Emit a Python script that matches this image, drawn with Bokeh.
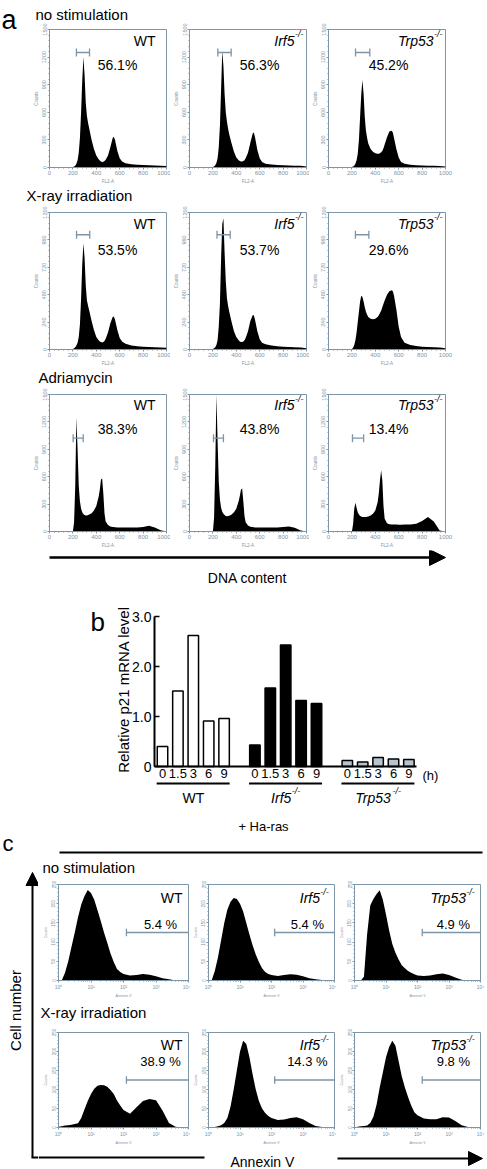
import math
from bokeh.plotting import figure
from bokeh.models import Range1d, FixedTicker, Arrow, NormalHead
from bokeh.layouts import column, row
from bokeh.core.properties import value
from bokeh.embed import file_html
from bokeh.resources import INLINE

# ======================= DATA =======================
# ---- panel a : DNA content histograms (FL2-A channel vs counts) ----
fl2_channel = [0, 180, 200, 210, 220, 230, 240, 250, 260, 270, 280, 290, 300, 310, 320, 330, 340,
               360, 380, 400, 420, 430, 440, 450, 460, 470, 480, 500, 520, 540, 550, 560, 580, 600,
               620, 650, 700, 750, 800, 850, 900, 950, 1000]
nostim_wt = [0, 0, 5, 10, 20, 40, 80, 160, 320, 600, 950, 1200, 1000, 700, 560, 480, 420, 300, 200, 130,
             90, 75, 65, 60, 62, 70, 85, 130, 220, 320, 335, 300, 180, 100, 65, 45, 35, 30, 28, 25, 22, 20, 15]
nostim_irf5 = [0, 0, 5, 10, 25, 50, 100, 220, 450, 850, 1270, 1100, 800, 600, 500, 420, 360, 260, 170, 110,
               80, 70, 65, 65, 70, 80, 100, 160, 270, 370, 380, 330, 190, 100, 60, 40, 32, 28, 25, 22, 20, 18, 10]
nostim_trp53 = [0, 0, 5, 10, 20, 40, 80, 150, 300, 550, 800, 950, 800, 550, 400, 320, 260, 200, 170, 155,
                150, 150, 155, 165, 180, 210, 250, 330, 390, 400, 380, 320, 200, 110, 60, 40, 30, 25, 22, 20, 18, 15, 10]
xray_wt = [0, 0, 5, 10, 20, 35, 60, 110, 220, 450, 750, 930, 800, 560, 430, 380, 340, 250, 170, 110,
           80, 70, 65, 62, 65, 75, 95, 150, 230, 285, 290, 260, 170, 100, 70, 50, 35, 28, 25, 22, 20, 18, 15]
xray_irf5 = [0, 0, 5, 10, 20, 40, 80, 200, 400, 800, 1100, 1150, 850, 600, 450, 380, 330, 240, 160, 110,
             80, 70, 65, 65, 70, 80, 100, 160, 250, 300, 300, 260, 160, 90, 60, 45, 35, 28, 25, 22, 20, 18, 12]
xray_trp53 = [0, 0, 5, 15, 40, 80, 150, 240, 330, 420, 470, 460, 420, 370, 330, 305, 285, 270, 265, 270,
              285, 300, 320, 340, 370, 400, 430, 480, 510, 520, 510, 470, 350, 200, 110, 60, 40, 30, 25, 22, 20, 18, 12]
adria_wt = [0, 0, 0, 100, 500, 1250, 900, 500, 330, 250, 210, 190, 180, 175, 175, 180, 185, 200, 230, 280,
            380, 460, 570, 580, 420, 200, 110, 70, 55, 50, 48, 47, 45, 45, 45, 45, 45, 45, 50, 62, 45, 15, 0]
adria_irf5 = [0, 0, 0, 150, 700, 1500, 1000, 550, 350, 260, 215, 195, 180, 170, 168, 170, 172, 185, 210, 250,
              330, 390, 460, 470, 330, 170, 100, 65, 52, 48, 46, 45, 45, 45, 45, 45, 45, 45, 48, 55, 40, 12, 0]
adria_trp53 = [0, 0, 0, 80, 250, 315, 260, 210, 185, 170, 163, 160, 158, 158, 160, 162, 165, 175, 195, 230,
               320, 420, 560, 670, 560, 280, 140, 90, 80, 78, 76, 76, 76, 75, 75, 76, 78, 85, 115, 160, 110, 10, 0]
pct_nostim_a = ["56.1%", "56.3%", "45.2%"]
pct_xray_a = ["53.5%", "53.7%", "29.6%"]
pct_adria_a = ["38.3%", "43.8%", "13.4%"]
gate_nostim_a_lo = [230, 242, 231]
gate_nostim_a_hi = [342, 356, 353]
gate_nostim_a_y = 1250
gate_xray_a_lo = [231, 235, 230]
gate_xray_a_hi = [344, 348, 345]
gate_xray_a_y = 1005
gate_adria_a_lo = [202, 205, 205]
gate_adria_a_hi = [288, 290, 300]
gate_adria_a_y = 1022
genotypes = ["WT", "Irf5", "Trp53"]
treatments_a = ["no stimulation", "X-ray irradiation", "Adriamycin"]
a_x_ticks = [0, 200, 400, 600, 800, 1000]
a_y_ticks_1500 = [0, 300, 600, 900, 1200, 1500]
a_y_ticks_1200 = [0, 240, 480, 720, 960, 1200]

# ---- panel b : relative p21 mRNA level ----
timepoints_h = ["0", "1.5", "3", "6", "9"]
p21_wt = [0.40, 1.51, 2.62, 0.91, 0.96]
p21_irf5 = [0.43, 1.57, 2.43, 1.32, 1.26]
p21_trp53 = [0.12, 0.09, 0.18, 0.15, 0.14]
b_y_ticks = [0, 1, 2, 3]
b_y_labels = ["0", "1.0", "2.0", "3.0"]

# ---- panel c : Annexin V histograms (log10 Annexin V vs counts) ----
annexin_log10 = [0.0, 0.1, 0.2, 0.3, 0.4, 0.5, 0.6, 0.7, 0.8, 0.9, 1.0, 1.1, 1.2, 1.3, 1.4, 1.5, 1.6, 1.7,
                 1.8, 1.9, 2.0, 2.2, 2.4, 2.6, 2.8, 3.0, 3.2, 3.4, 3.6, 3.8, 4.0]
c_nostim_wt = [0, 0, 20, 50, 88, 125, 165, 198, 220, 236, 228, 210, 183, 155, 125, 98, 70, 48, 30, 22,
               17, 13, 14, 17, 15, 11, 6, 3, 0, 0, 0]
c_nostim_irf5 = [0, 0, 25, 60, 105, 150, 185, 205, 215, 212, 200, 180, 150, 120, 92, 68, 48, 32, 22, 17,
                 14, 12, 14, 16, 15, 11, 6, 3, 1, 0, 0]
c_nostim_trp53 = [0, 0, 0, 10, 120, 195, 212, 225, 235, 210, 172, 130, 95, 72, 55, 40, 32, 25, 20, 16,
                  13, 12, 13, 16, 18, 14, 8, 2, 0, 0, 0]
c_xray_wt = [2, 3, 5, 6, 7, 9, 11, 25, 48, 70, 88, 102, 110, 112, 111, 107, 99, 88, 71, 58,
             46, 36, 53, 70, 75, 72, 45, 12, 2, 0, 0]
c_xray_irf5 = [0, 0, 1, 3, 6, 12, 25, 55, 100, 150, 200, 228, 220, 185, 140, 100, 70, 50, 38, 30,
               25, 20, 21, 25, 27, 22, 12, 4, 1, 0, 0]
c_xray_trp53 = [0, 2, 3, 4, 5, 12, 28, 60, 105, 145, 185, 212, 228, 215, 175, 135, 105, 80, 58, 40,
                32, 24, 22, 22, 27, 26, 17, 6, 1, 0, 0]
pct_nostim_c = ["5.4 %", "5.4 %", "4.9 %"]
pct_xray_c = ["38.9 %", "14.3 %", "9.8 %"]
gate_c_lo = [2.09, 2.1, 2.15]
gate_c_y = 125
treatments_c = ["no stimulation", "X-ray irradiation"]
c_x_ticks = [0, 1, 2, 3, 4]
c_x_labels = ["10\u2070", "10\u00b9", "10\u00b2", "10\u00b3", "10\u2074"]
c_y_ticks = [0, 50, 100, 150, 200, 250]

# ======================= STYLE / HELPERS =======================
FONT = "Liberation Sans"
SLATE = "#7d95a6"
INK = "#000000"
TRP_FILL = "#b5c4ce"
EM = {"Irf5": 1.445, "Trp53": 2.612, "-/-": 0.944}


class Geo:
    """maps page pixel positions to a figure's data coordinates"""
    def __init__(self, fl, ft, fw, fh, xr, yr):
        self.fl, self.ft, self.fw, self.fh, self.xr, self.yr = fl, ft, fw, fh, xr, yr

    def x(self, px):
        return self.xr[0] + (px - self.fl) * (self.xr[1] - self.xr[0]) / self.fw

    def y(self, py):
        return self.yr[1] - (py - self.ft) * (self.yr[1] - self.yr[0]) / self.fh


def base_fig(w, h, xr, yr, bl=0, br=0, bt=0, bb=0, axes=True):
    kw = dict(width=w, height=h, x_range=Range1d(*xr), y_range=Range1d(*yr), min_border=0,
              min_border_left=bl, min_border_right=br, min_border_top=bt, min_border_bottom=bb,
              toolbar_location=None, output_backend="svg")
    if not axes:
        kw.update(x_axis_location=None, y_axis_location=None)
    p = figure(**kw)
    p.grid.visible = False
    p.outline_line_color = None
    p.background_fill_color = "white"
    p.border_fill_color = "white"
    return p


def canvas(x0, y0, w, h):
    xr, yr = (x0, x0 + w), (-(y0 + h), -y0)
    p = base_fig(w, h, xr, yr, axes=False)
    return p, Geo(x0, y0, w, h, xr, yr)


def put_text(p, g, px, py, s, size, align="left", style="normal", color=INK, angle=0.0):
    p.text(x=[g.x(px)], y=[g.y(py)], text=[s], text_font=value(FONT), text_font_size=f"{size}px",
           text_align=align, text_baseline="middle", text_font_style=style, text_color=color, angle=angle)


def put_line(p, g, pxs, pys, width=2):
    p.line(x=[g.x(v) for v in pxs], y=[g.y(v) for v in pys], line_color=INK, line_width=width)


def put_arrow(p, g, x0, y0, x1, y1, width, head):
    p.add_layout(Arrow(x_start=g.x(x0), y_start=g.y(y0), x_end=g.x(x1), y_end=g.y(y1),
                       line_width=width, line_color=INK,
                       end=NormalHead(size=head, fill_color=INK, line_color=INK)))


def genotype_right(p, g, name, right_px, mid_px, size, sup):
    if name == "WT":
        put_text(p, g, right_px, mid_px, "WT", size, align="right")
        return
    put_text(p, g, right_px, mid_px - 0.43 * size, "-/-", sup, align="right", style="italic")
    put_text(p, g, right_px - EM["-/-"] * sup - 0.5, mid_px, name, size, align="right", style="italic")


def genotype_center(p, g, name, cx_px, mid_px, size, sup):
    if name == "WT":
        put_text(p, g, cx_px, mid_px, "WT", size, align="center")
        return
    w_main = EM[name] * size
    w_sup = EM["-/-"] * sup
    x0 = cx_px - (w_main + w_sup + 0.5) / 2
    put_text(p, g, x0, mid_px, name, size, style="italic")
    put_text(p, g, x0 + w_main + 0.5, mid_px - 0.43 * size, "-/-", sup, style="italic")


def style_hist_axes(p, xticks, xminor, yticks, yminor, xlabel, xtick_px, ytick_px, lab_px, x_over=None):
    p.outline_line_color = SLATE
    p.outline_line_width = 1
    p.xaxis.ticker = FixedTicker(ticks=xticks, minor_ticks=xminor)
    p.yaxis.ticker = FixedTicker(ticks=yticks, minor_ticks=yminor)
    if x_over:
        p.xaxis.major_label_overrides = x_over
    p.xaxis.axis_label = xlabel
    p.yaxis.axis_label = "Counts"
    p.yaxis.major_label_orientation = "vertical"
    for ax, tp in ((p.xaxis[0], xtick_px), (p.yaxis[0], ytick_px)):
        ax.axis_line_color = SLATE
        ax.major_tick_line_color = SLATE
        ax.minor_tick_line_color = SLATE
        ax.major_tick_out = 2
        ax.major_tick_in = 0
        ax.minor_tick_out = 1
        ax.minor_tick_in = 0
        ax.major_label_text_font = FONT
        ax.major_label_text_font_size = f"{tp}px"
        ax.major_label_text_color = SLATE
        ax.major_label_standoff = 1
        ax.axis_label_text_font = FONT
        ax.axis_label_text_font_size = f"{lab_px}px"
        ax.axis_label_text_font_style = "normal"
        ax.axis_label_text_color = SLATE
        ax.axis_label_standoff = 1


# ======================= PANEL a =======================
A_FIG_W = [[140, 139, 178], [170, 139, 178], [170, 139, 178]]
A_BL = [[19, 19, 19], [49, 19, 19], [49, 19, 19]]
A_BR = [4, 3, 42]
A_FRAME_L = [49, 189, 328]
A_FW = 117
A_HDR = [(30, 0, 457, 22), (0, 186, 487, 19), (0, 368, 487, 19)]   # x0, y0, w, h
A_ROW = [(22, 164), (205, 163), (387, 163)]                        # top, height
A_BT = [7, 7, 7]
A_FH = [138, 137, 138]
A_PCT_DX = [68, 70, 60]
A_ROW_LABEL = [(35, 13.5), (26, 195), (38, 377)]                   # left, middle

a_hists = [[nostim_wt, nostim_irf5, nostim_trp53],
           [xray_wt, xray_irf5, xray_trp53],
           [adria_wt, adria_irf5, adria_trp53]]
a_pcts = [pct_nostim_a, pct_xray_a, pct_adria_a]
a_gate_lo = [gate_nostim_a_lo, gate_xray_a_lo, gate_adria_a_lo]
a_gate_hi = [gate_nostim_a_hi, gate_xray_a_hi, gate_adria_a_hi]
a_gate_y = [gate_nostim_a_y, gate_xray_a_y, gate_adria_a_y]
a_yticks = [a_y_ticks_1500, a_y_ticks_1200, a_y_ticks_1500]

a_headers, a_rows = [], []
for r in range(3):
    hx, hy, hw, hh = A_HDR[r]
    hdr, gh = canvas(hx, hy, hw, hh)
    lx, ly = A_ROW_LABEL[r]
    put_text(hdr, gh, lx, ly, treatments_a[r], 15)
    a_headers.append(hdr)

    rt, rh = A_ROW[r]
    ft = rt + A_BT[r]
    ymax = a_yticks[r][-1]
    figs = []
    for c in range(3):
        xr, yr = (0, 1000), (0, ymax)
        bb = rh - A_BT[r] - A_FH[r]
        p = base_fig(A_FIG_W[r][c], rh, xr, yr, A_BL[r][c], A_BR[c], A_BT[r], bb)
        g = Geo(A_FRAME_L[c], ft, A_FW, A_FH[r], xr, yr)
        style_hist_axes(p, a_x_ticks, list(range(0, 1001, 40)), a_yticks[r],
                        [v * ymax / 25 for v in range(26)], "FL2-A", 6, 5.5, 4.5)
        p.varea(x=fl2_channel, y1=0, y2=a_hists[r][c], fill_color="black")
        lo, hi, gy = a_gate_lo[r][c], a_gate_hi[r][c], a_gate_y[r]
        d = ymax * 4.0 / A_FH[r]
        p.segment(x0=[lo], x1=[hi], y0=[gy], y1=[gy], line_color=SLATE, line_width=1.3)
        p.segment(x0=[lo, hi], x1=[lo, hi], y0=[gy - d, gy - d], y1=[gy + d, gy + d],
                  line_color=SLATE, line_width=1.3)
        fr = A_FRAME_L[c] + A_FW
        genotype_right(p, g, genotypes[c], fr - (11 if c == 0 else 3), ft + 11, 14, 9)
        put_text(p, g, A_FRAME_L[c] + A_PCT_DX[c], ft + (37 if r == 1 else 35),
                 a_pcts[r][c], 14, align="center")
        figs.append(p)
    a_rows.append(row(*figs))

a_strip, gas = canvas(0, 0, 30, 186)
put_text(a_strip, gas, 1, 19, "a", 27)

a_foot, ga = canvas(0, 550, 487, 40)
put_arrow(a_foot, ga, 49, 557, 445, 557, 2.5, 16)
put_text(a_foot, ga, 247, 577, "DNA content", 14, align="center")

panel_a = column(row(a_strip, column(a_headers[0], a_rows[0])),
                 a_headers[1], a_rows[1], a_headers[2], a_rows[2], a_foot)

# ======================= PANEL b (one figure, axes drawn at fixed locations) =======================
B_PX_PER_UNIT = 15.4
B_X0_PX = 162          # page x of the first bar centre
B_Y0_PX = 766          # page y of the zero line
B_PX_PER_Y = 50
B_XR = ((0 - B_X0_PX) / B_PX_PER_UNIT, (487 - B_X0_PX) / B_PX_PER_UNIT)
B_YR = ((B_Y0_PX - 806) / B_PX_PER_Y, (B_Y0_PX - 590) / B_PX_PER_Y)
pb = base_fig(487, 216, B_XR, B_YR)
gb = Geo(0, 590, 487, 216, B_XR, B_YR)
b_ticks, b_over = [], {}
b_series = [(p21_wt, "white"), (p21_irf5, "black"), (p21_trp53, TRP_FILL)]
for gi, (vals, fill) in enumerate(b_series):
    xs = [gi * 6 + i for i in range(len(timepoints_h))]
    pb.vbar(x=xs, top=vals, bottom=0, width=0.68, fill_color=fill, line_color=INK, line_width=1.5)
    for xv, lab in zip(xs, timepoints_h):
        b_ticks.append(xv)
        b_over[xv] = lab
    pb.segment(x0=[xs[0] - 0.38], x1=[xs[-1] + 0.36], y0=[-0.34], y1=[-0.34], line_color=INK, line_width=2)
    genotype_center(pb, gb, genotypes[gi], B_X0_PX + (gi * 6 + 2) * B_PX_PER_UNIT, 797, 14, 9)

pb.xaxis.fixed_location = 0
pb.xaxis.bounds = (-0.52, 16.5)
pb.xaxis.ticker = FixedTicker(ticks=b_ticks, minor_ticks=[])
pb.xaxis.major_label_overrides = b_over
pb.yaxis.fixed_location = -0.52
pb.yaxis.bounds = (0, 3)
pb.yaxis.ticker = FixedTicker(ticks=b_y_ticks, minor_ticks=[])
pb.yaxis.major_label_overrides = dict(zip(b_y_ticks, b_y_labels))
for ax in (pb.xaxis[0], pb.yaxis[0]):
    ax.axis_line_width = 2
    ax.axis_line_color = INK
    ax.major_label_text_font = FONT
    ax.major_label_text_color = INK
pb.xaxis.major_tick_in = 0
pb.xaxis.major_tick_out = 0
pb.xaxis.minor_tick_line_color = None
pb.xaxis.major_label_text_font_size = "13px"
pb.xaxis.major_label_standoff = 2
pb.yaxis.major_tick_in = 5
pb.yaxis.major_tick_out = 0
pb.yaxis.major_tick_line_width = 1.5
pb.yaxis.minor_tick_line_color = None
pb.yaxis.major_label_text_font_size = "14px"
pb.yaxis.major_label_standoff = 3
put_text(pb, gb, 422, 775, "(h)", 13)
put_text(pb, gb, 90, 621, "b", 26)
put_text(pb, gb, 123, 689, "Relative p21 mRNA level", 15, align="center", angle=math.pi / 2)

# ======================= PANEL c =======================
c_strip, gs = canvas(0, 806, 38, 363)
put_text(c_strip, gs, 2, 843, "c", 22)
put_arrow(c_strip, gs, 32, 1157, 32, 872, 2, 13)
put_line(c_strip, gs, [31, 38], [1157, 1157])
put_text(c_strip, gs, 15, 1010, "Cell number", 15, align="center", angle=math.pi / 2)

c_head, gh = canvas(38, 806, 449, 70)
put_text(c_head, gh, 263, 826, "+ Ha-ras", 13, align="center")
put_line(c_head, gh, [59, 482], [852, 852])
put_text(c_head, gh, 42, 867, treatments_c[0], 15)

c_hdr2, gh2 = canvas(38, 1000, 449, 24)
put_text(c_hdr2, gh2, 40, 1012, treatments_c[1], 15)

C_FIG_W = [152, 146, 151]
C_BL = [20, 14, 14]
C_BR = [2, 2, 7]
C_FRAME_L = [58, 204, 350]
C_FW = 130
C_ROW = [(876, 124), (1024, 123)]
C_BT = [8, 8]
C_FH = [101, 102]
C_GENO_DY = [14, 13]
C_PCT_DY = [42, 31]
c_hists = [[c_nostim_wt, c_nostim_irf5, c_nostim_trp53], [c_xray_wt, c_xray_irf5, c_xray_trp53]]
c_pcts = [pct_nostim_c, pct_xray_c]
c_minor = [d + math.log10(k) for d in range(4) for k in range(2, 10)]

c_rows = []
for r in range(2):
    rt, rh = C_ROW[r]
    ft = rt + C_BT[r]
    figs = []
    for c in range(3):
        xr, yr = (0, 4), (0, 250)
        bb = rh - C_BT[r] - C_FH[r]
        p = base_fig(C_FIG_W[c], rh, xr, yr, C_BL[c], C_BR[c], C_BT[r], bb)
        g = Geo(C_FRAME_L[c], ft, C_FW, C_FH[r], xr, yr)
        style_hist_axes(p, c_x_ticks, c_minor, c_y_ticks, list(range(0, 251, 10)), "Annexin V",
                        5, 4.5, 3.5, x_over=dict(zip(c_x_ticks, c_x_labels)))
        p.varea(x=annexin_log10, y1=0, y2=c_hists[r][c], fill_color="black")
        lo = gate_c_lo[c]
        p.segment(x0=[lo], x1=[4.0], y0=[gate_c_y], y1=[gate_c_y], line_color=SLATE, line_width=1.3)
        p.segment(x0=[lo], x1=[lo], y0=[gate_c_y - 10], y1=[gate_c_y + 10], line_color=SLATE, line_width=1.3)
        fr = C_FRAME_L[c] + C_FW
        genotype_right(p, g, genotypes[c], fr - 6, ft + C_GENO_DY[r], 14, 9)
        put_text(p, g, fr - 28, ft + C_PCT_DY[r], c_pcts[r][c], 13, align="center")
        figs.append(p)
    c_rows.append(row(*figs))

c_foot, gf = canvas(38, 1147, 449, 22)
put_line(c_foot, gf, [38, 204], [1157, 1157])
put_text(c_foot, gf, 230, 1161, "Annexin V", 14)
put_arrow(c_foot, gf, 337, 1158, 482, 1158, 2, 14)

panel_c = row(c_strip, column(c_head, c_rows[0], c_hdr2, c_rows[1], c_foot))

page = column(panel_a, pb, panel_c)
open("out.html", "w").write(file_html(page, INLINE, title="p21 / apoptosis figure"))
